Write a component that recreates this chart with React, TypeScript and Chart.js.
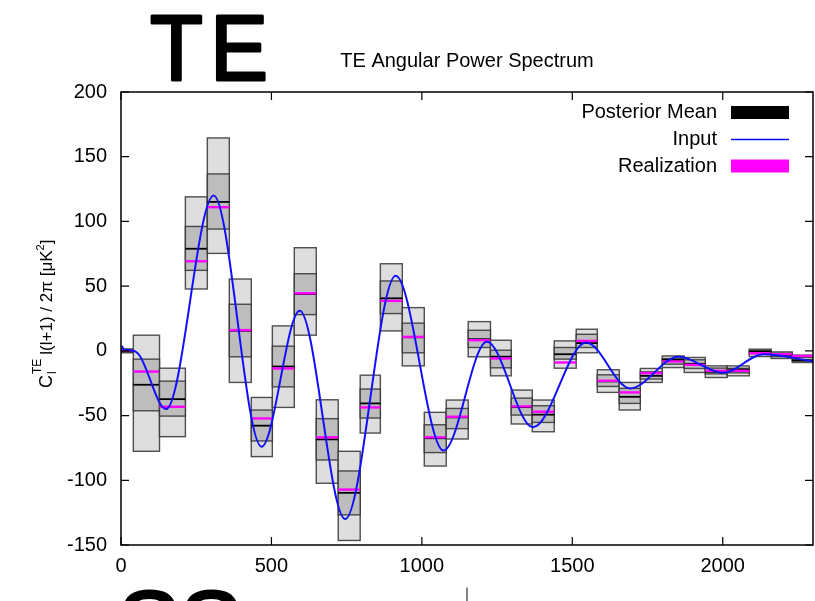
import React, { useEffect, useRef } from "react";
import { Chart, registerables } from "chart.js";

Chart.register(...registerables);

// ---- data ----
const binEdges = [2, 41, 128, 214, 287, 360, 433, 503, 576, 649, 722, 795, 862, 935, 1008, 1081, 1154, 1228, 1297, 1367, 1440, 1513, 1583, 1656, 1726, 1799, 1872, 1942, 2015, 2088, 2161, 2231, 2301];
const outerLow = [-1.5, -77.6, -66.3, 47.8, 75.3, -24.4, -81.7, -43.7, 12.1, -102.3, -146.5, -63.5, 15.4, -11.6, -89, -68.1, -4.6, -19.3, -56.5, -62.5, -13.4, -1.5, -32.1, -45.7, -24.4, -12.9, -16.7, -20.6, -19.3, -4.4, -5.9, -9.0];
const innerLow = [-0.8, -46.3, -50.4, 62.2, 94.1, -4.6, -69.6, -27.8, 28.0, -84.3, -126.7, -51.9, 28.8, -1.5, -78.6, -60.1, 2.6, -13.1, -49.6, -55.3, -6.4, 2.6, -27.5, -40.6, -21.8, -10.3, -13.6, -17.8, -17.0, -2.2, -4.5, -8.0];
const posteriorMean = [0, -26.2, -37.3, 78.9, 115.1, 15.5, -57.8, -12.1, 44.0, -68.4, -109.7, -40.6, 40.6, 10.5, -67.5, -51.4, 9.0, -4.5, -43.5, -49.3, -2.6, 6.0, -23.6, -35.5, -19.3, -7.0, -10.0, -16.2, -14.5, -0.5, -3.2, -7.2];
const realization = [0.5, -16.0, -43.2, 69.2, 111.0, 16.0, -52.2, -13.6, 44.5, -66.8, -107.2, -43.7, 38.6, 10.8, -66.8, -50.9, 8.2, -5.9, -42.9, -47.0, -9.0, 7.7, -23.1, -32.1, -17.2, -8.2, -10.8, -15.4, -15.4, -1.8, -2.6, -3.9];
const innerHigh = [0.8, -6.4, -23.4, 96.1, 136.7, 36.0, -45.7, 3.6, 59.6, -52.4, -92.8, -29.5, 54.0, 21.4, -57.1, -44.5, 15.9, 0.5, -36.5, -42.4, 2.6, 12.8, -18.5, -29.0, -16.2, -5.9, -6.9, -13.3, -13.5, 0.3, -1.8, -5.0];
const outerHigh = [1.5, 12.1, -13.4, 119.0, 164.5, 55.5, -36.0, 19.3, 79.7, -37.8, -77.6, -18.8, 67.3, 33.4, -47.5, -38.0, 22.6, 8.2, -30.3, -38.0, 7.7, 16.7, -14.6, -24.4, -13.6, -3.9, -5.1, -11.6, -11.6, 1.3, -0.8, -3.3];

const inputL = [2, 10, 35, 60, 150, 308, 467, 594, 745, 913, 1072, 1216, 1369, 1546, 1692, 1853, 2002, 2135, 2300];
const inputC = [4, 1, 0.5, -3, -45, 120, -74, 31, -130, 58, -77, 7, -59, 6.5, -29, -4.6, -17, -2.6, -8];

const xTicks = [0, 500, 1000, 1500, 2000];
const yTicks = [-150, -100, -50, 0, 50, 100, 150, 200];

const legendLabels = ["Posterior Mean", "Input", "Realization"];
const chartTitle = "TE Angular Power Spectrum";
const panelLabel = "TE";
const nextPanelLabel = "SS";

const FONT = "'Liberation Sans', Arial, Helvetica, sans-serif";

const decorPlugin = {
  id: "decor",
  beforeDatasetsDraw(chart: any) {
    const { ctx, chartArea: a, scales } = chart;
    const x = scales.x;
    const y = scales.y;
    ctx.save();
    ctx.beginPath();
    ctx.rect(a.left, a.top, a.right - a.left, a.bottom - a.top);
    ctx.clip();
    const box = (x0: number, x1: number, lo: number, hi: number, fill: string) => {
      const y0 = y.getPixelForValue(hi);
      const y1 = y.getPixelForValue(lo);
      ctx.fillStyle = fill;
      ctx.fillRect(x0, y0, x1 - x0, y1 - y0);
      ctx.strokeStyle = "rgba(50,50,50,0.85)";
      ctx.lineWidth = 1.4;
      ctx.strokeRect(x0, y0, x1 - x0, y1 - y0);
    };
    const hline = (x0: number, x1: number, v: number, color: string, w: number) => {
      const py = y.getPixelForValue(v);
      ctx.strokeStyle = color;
      ctx.lineWidth = w;
      ctx.beginPath();
      ctx.moveTo(x0, py);
      ctx.lineTo(x1, py);
      ctx.stroke();
    };
    for (let i = 0; i < outerLow.length; i++) {
      const x0 = x.getPixelForValue(binEdges[i]);
      const x1 = x.getPixelForValue(binEdges[i + 1]);
      box(x0, x1, outerLow[i], outerHigh[i], "#dedede");
      box(x0, x1, innerLow[i], innerHigh[i], "#bdbdbd");
      hline(x0, x1, posteriorMean[i], "#000000", 1.8);
      hline(x0, x1, realization[i], "#ff00ff", 2.4);
    }
    ctx.restore();
  },
  afterDatasetsDraw(chart: any) {
    const { ctx, chartArea: a, scales } = chart;
    const x = scales.x;
    const y = scales.y;
    ctx.save();
    ctx.strokeStyle = "#000";
    ctx.lineWidth = 1.5;
    ctx.strokeRect(a.left, a.top, a.right - a.left, a.bottom - a.top);
    ctx.lineWidth = 1.2;
    const tl = 8;
    ctx.beginPath();
    xTicks.forEach((v) => {
      const px = x.getPixelForValue(v);
      ctx.moveTo(px, a.bottom);
      ctx.lineTo(px, a.bottom - tl);
      ctx.moveTo(px, a.top);
      ctx.lineTo(px, a.top + tl);
    });
    yTicks.forEach((v) => {
      const py = y.getPixelForValue(v);
      ctx.moveTo(a.left, py);
      ctx.lineTo(a.left + tl, py);
      ctx.moveTo(a.right, py);
      ctx.lineTo(a.right - tl, py);
    });
    ctx.stroke();

    // legend
    const tx = 717;
    const sx0 = 731;
    const sx1 = 789;
    const rows = [112.5, 139.5, 166];
    ctx.font = `20px ${FONT}`;
    ctx.fillStyle = "#000";
    ctx.textAlign = "right";
    ctx.textBaseline = "middle";
    legendLabels.forEach((t, i) => ctx.fillText(t, tx, rows[i]));
    ctx.fillStyle = "#000";
    ctx.fillRect(sx0, rows[0] - 6.5, sx1 - sx0, 13);
    ctx.strokeStyle = "#0000ff";
    ctx.lineWidth = 1.6;
    ctx.beginPath();
    ctx.moveTo(sx0, rows[1]);
    ctx.lineTo(sx1, rows[1]);
    ctx.stroke();
    ctx.fillStyle = "#ff00ff";
    ctx.fillRect(sx0, rows[2] - 6.5, sx1 - sx0, 13);
    ctx.restore();
  },
  afterDraw(chart: any) {
    const { ctx, chartArea: a } = chart;
    ctx.save();
    ctx.fillStyle = "#000";
    ctx.font = `20px ${FONT}`;
    ctx.textAlign = "center";
    ctx.textBaseline = "middle";
    ctx.fillText(chartTitle, (a.left + a.right) / 2, 61);

    // y axis title with sub/superscripts
    ctx.save();
    ctx.translate(52, 388);
    ctx.rotate(-Math.PI / 2);
    ctx.textAlign = "left";
    ctx.textBaseline = "alphabetic";
    let cx = 0;
    ctx.font = `18px ${FONT}`;
    ctx.fillText("C", cx, 0);
    cx += ctx.measureText("C").width + 1;
    ctx.font = `12px ${FONT}`;
    ctx.fillText("TE", cx, -11);
    ctx.fillText("l", cx, 4);
    cx += ctx.measureText("TE").width + 4;
    ctx.font = `17px ${FONT}`;
    const mid = "l(l+1) / 2\u03C0 [\u03BCK";
    ctx.fillText(mid, cx, 0);
    cx += ctx.measureText(mid).width;
    ctx.font = `11px ${FONT}`;
    ctx.fillText("2", cx, -8);
    cx += ctx.measureText("2").width;
    ctx.font = `17px ${FONT}`;
    ctx.fillText("]", cx, 0);
    ctx.restore();

    // big panel labels
    ctx.textAlign = "left";
    ctx.textBaseline = "alphabetic";
    ctx.lineJoin = "round";
    ctx.lineCap = "round";
    ctx.fillStyle = "#000";
    ctx.strokeStyle = "#000";
    ctx.lineWidth = 3;
    ctx.save();
    ctx.translate(150, 80);
    ctx.scale(0.93, 1);
    ctx.font = `93px ${FONT}`;
    (ctx as any).letterSpacing = "8px";
    ctx.fillText(panelLabel, 0, 0);
    ctx.strokeText(panelLabel, 0, 0);
    (ctx as any).letterSpacing = "0px";
    ctx.restore();
    ctx.font = `93px ${FONT}`;
    ctx.fillText(nextPanelLabel, 118, 656);
    ctx.strokeText(nextPanelLabel, 118, 656);

    // stray tick of next panel
    ctx.strokeStyle = "#333";
    ctx.lineWidth = 1.2;
    ctx.beginPath();
    ctx.moveTo(467, 588);
    ctx.lineTo(467, 601);
    ctx.stroke();
    ctx.restore();
  },
};

export default function App() {
  const ref = useRef<HTMLCanvasElement | null>(null);
  useEffect(() => {
    if (!ref.current) return;
    const chart = new Chart(ref.current, {
      type: "line",
      data: {
        datasets: [
          {
            label: "Input",
            data: inputL.map((l, i) => ({ x: l, y: inputC[i] })),
            borderColor: "#1010ff",
            borderWidth: 2,
            pointRadius: 0,
            cubicInterpolationMode: "monotone",
            fill: false,
          },
        ],
      },
      options: {
        animation: false,
        responsive: false,
        devicePixelRatio: 1,
        layout: { padding: { top: 92, right: 2, bottom: 0, left: 0 } },
        plugins: { legend: { display: false }, title: { display: false }, tooltip: { enabled: false } },
        scales: {
          x: {
            type: "linear",
            min: 0,
            max: 2300,
            grid: { display: false, drawTicks: false, tickLength: 0 },
            border: { display: false },
            afterBuildTicks: (axis: any) => {
              axis.ticks = xTicks.map((v) => ({ value: v }));
            },
            afterFit: (axis: any) => {
              axis.height = 56;
            },
            ticks: {
              autoSkip: false,
              maxRotation: 0,
              padding: 9,
              color: "#000",
              font: { family: FONT, size: 20 },
              callback: (v: any) => String(v),
            },
          },
          y: {
            type: "linear",
            min: -150,
            max: 200,
            grid: { display: false, drawTicks: false, tickLength: 0 },
            border: { display: false },
            afterBuildTicks: (axis: any) => {
              axis.ticks = yTicks.map((v) => ({ value: v }));
            },
            afterFit: (axis: any) => {
              axis.width = 121;
            },
            ticks: {
              autoSkip: false,
              padding: 14,
              color: "#000",
              font: { family: FONT, size: 20 },
              callback: (v: any) => String(v),
            },
          },
        },
      },
      plugins: [decorPlugin],
    } as any);
    return () => chart.destroy();
  }, []);
  return (
    <div style={{ position: "fixed", left: 0, top: 0, width: 815, height: 601, background: "#fff" }}>
      <canvas ref={ref} width={815} height={601} style={{ width: 815, height: 601, display: "block" }} />
    </div>
  );
}
